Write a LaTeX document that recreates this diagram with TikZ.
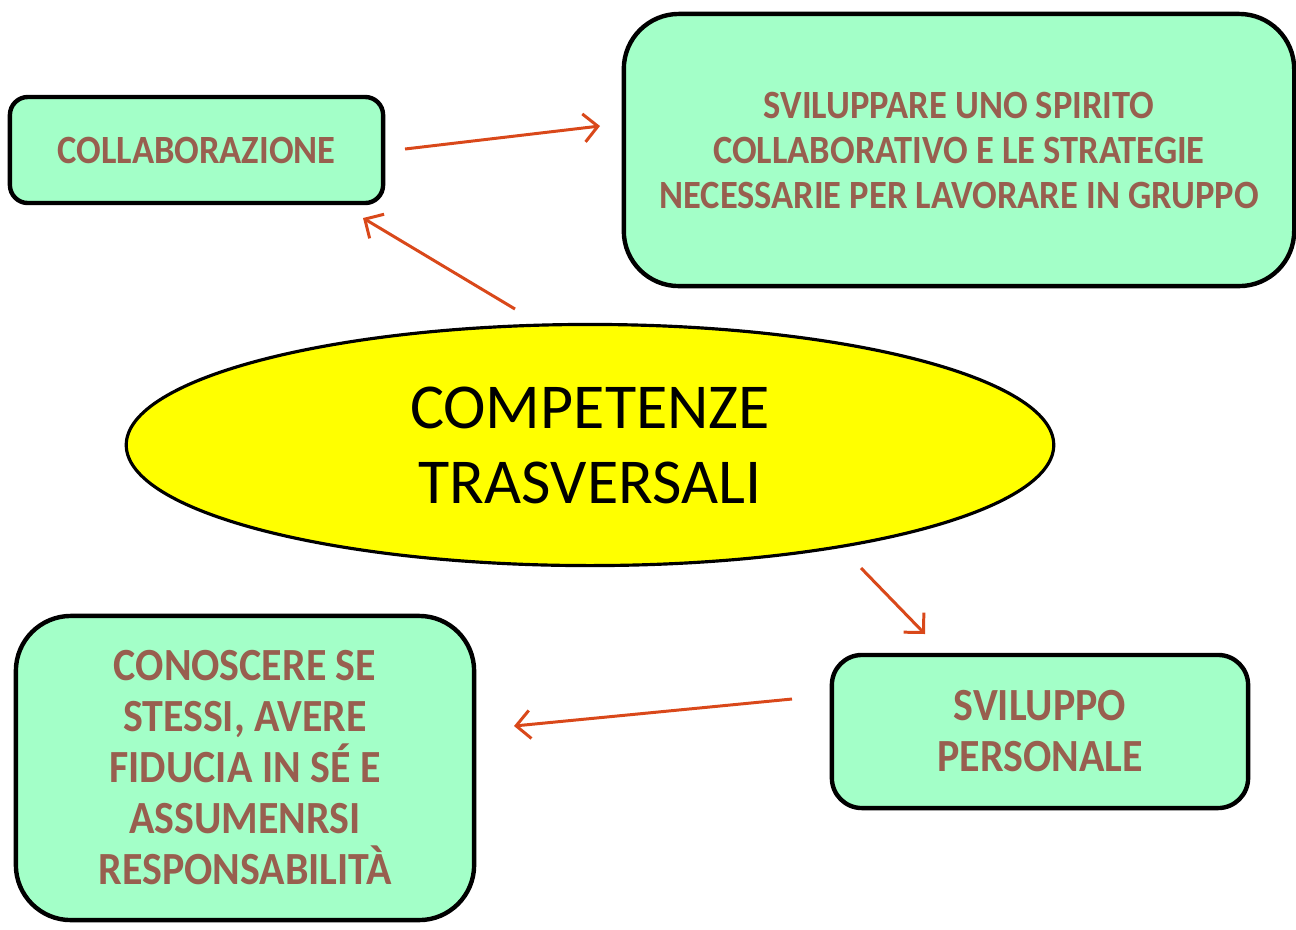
\documentclass[tikz,border=0pt]{standalone}
\usepackage{fontspec}
\setmainfont{Carlito}
\newfontfamily\boxfont{Carlito}[FakeStretch=0.91]
\usetikzlibrary{shapes.geometric, arrows.meta, positioning}
\definecolor{boxgreen}{HTML}{A3FFC8}
\definecolor{boxtext}{HTML}{985F4F}
\definecolor{arrowred}{HTML}{D9481A}
\definecolor{ellyellow}{HTML}{FFFF00}
\tikzset{
  box/.style={
    rectangle, rounded corners=#1, draw=black, line width=1.25pt,
    fill=boxgreen, align=center, text=boxtext,
    font=\boxfont\fontsize{11.4}{12.8}\selectfont\bfseries
  },
  bigbox/.style={
    box=#1, font=\boxfont\fontsize{13.1}{14.5}\selectfont\bfseries
  },
  arrow/.style={-{Straight Barb[length=4pt, width=8pt]},
    line width=0.85pt, arrowred}
}
\begin{document}
\begin{tikzpicture}[x=0.01cm, y=-0.01cm]
  \useasboundingbox (0,0) rectangle (1296,929);
  % Ellisse centrale
  \node[ellipse, draw, line width=0.9pt, fill=ellyellow,
    minimum width=9.27cm, minimum height=2.41cm, align=center,
    font=\fontsize{18.2}{21.3}\selectfont] (comp) at (590,445)
    {COMPETENZE\\TRASVERSALI};
  % Riquadri
  \node[box=0.18cm, minimum width=3.73cm, minimum height=1.06cm]
    (collab) at (196.5,150) {COLLABORAZIONE};
  \node[box=0.55cm, minimum width=6.70cm, minimum height=2.72cm]
    (spirito) at (959,150)
    {SVILUPPARE UNO SPIRITO\\COLLABORATIVO E LE STRATEGIE\\NECESSARIE PER LAVORARE IN GRUPPO};
  \node[bigbox=0.3cm, minimum width=4.16cm, minimum height=1.53cm]
    (svil) at (1040,731.5) {SVILUPPO\\PERSONALE};
  \node[bigbox=0.55cm, minimum width=4.58cm, minimum height=3.04cm]
    (conosc) at (245,768)
    {CONOSCERE SE\\STESSI, AVERE\\FIDUCIA IN SÉ E\\ASSUMENRSI\\RESPONSABILITÀ};
  % Estremi delle frecce
  \coordinate (collabout) at (405,149);
  \coordinate (spiritoin) at (600,126);
  \coordinate (compnw) at (515,309);
  \coordinate (collabin) at (363,218);
  \coordinate (compse) at (861,568);
  \coordinate (svilin) at (925,634);
  \coordinate (svilout) at (792,699);
  \coordinate (conoscin) at (514,726);
  % Frecce
  \draw[arrow] (collabout) -- (spiritoin);
  \draw[arrow] (compnw) -- (collabin);
  \draw[arrow] (compse) -- (svilin);
  \draw[arrow] (svilout) -- (conoscin);
\end{tikzpicture}
\end{document}
